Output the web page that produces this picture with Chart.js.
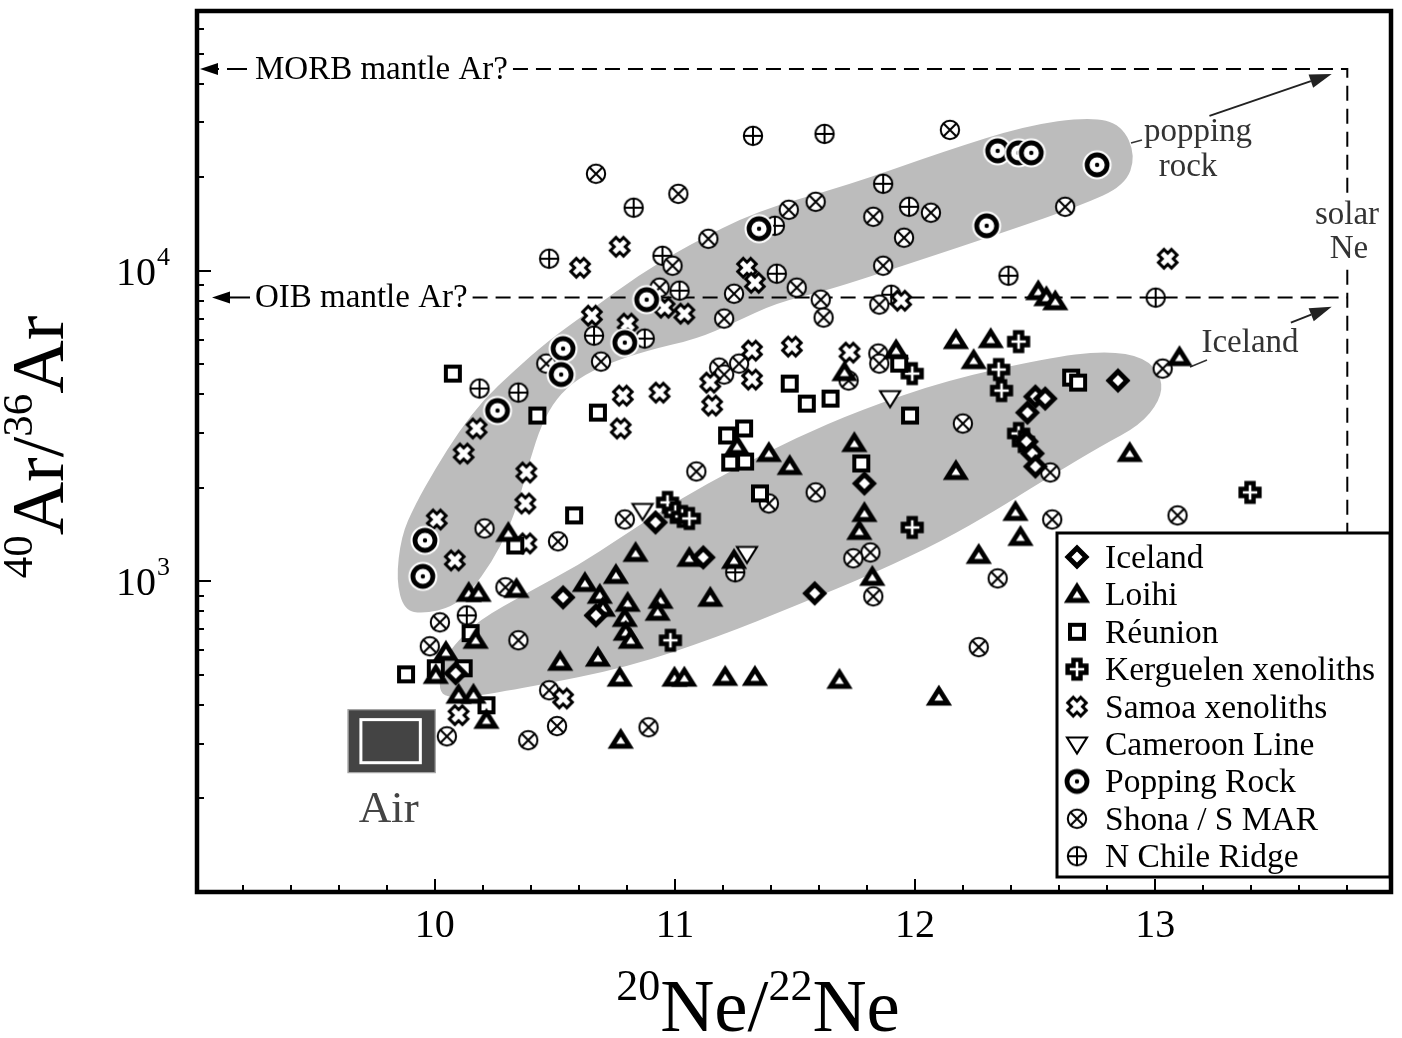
<!DOCTYPE html>
<html><head><meta charset="utf-8">
<script src="https://cdn.jsdelivr.net/npm/chart.js@4/dist/chart.umd.min.js"></script>
<style>html,body{margin:0;padding:0;background:#fff;overflow:hidden}#wrap{width:1402px;height:1038px;position:relative}canvas{display:block}</style>
</head><body><div id="wrap"><canvas id="c"></canvas></div>
<script>
// ---------- data ([20Ne/22Ne, 40Ar/36Ar]) ----------
const xMajorTicks = [10, 11, 12, 13];
const xTickLabels = ['10', '11', '12', '13'];
const yMajorTicks = [1000, 10000];
const yTickExponents = ['3', '4'];

const iceland = [[10.087,506],[10.534,888],[10.671,777],[10.919,1548],[11.118,1194],[11.582,915],[11.789,2066],[12.468,3494],[12.501,3934],[12.542,3876],[12.464,2819],[12.489,2580],[12.501,2343],[12.845,4430]];
const loihi = [[10.141,915],[10.182,915],[10.340,942],[10.046,591],[10.170,646],[10.004,498],[10.099,430],[10.161,430],[10.215,357],[10.522,549],[10.679,566],[10.625,985],[10.687,902],[10.754,1045],[10.836,1230],[11.060,1186],[10.803,850],[10.700,819],[10.940,869],[10.928,795],[10.791,760],[10.795,686],[10.816,646],[11.147,882],[11.246,1168],[10.770,488],[10.998,488],[11.039,488],[11.209,491],[11.333,491],[11.685,480],[10.774,308],[12.099,424],[10.306,1427],[11.259,2717],[11.391,2580],[11.478,2343],[11.706,4699],[11.921,5531],[11.747,2778],[11.789,1654],[11.768,1448],[11.822,1030],[12.170,5957],[12.315,6002],[12.244,5136],[12.170,2258],[12.265,1212],[12.418,1667],[12.439,1385],[12.513,8561],[12.547,8188],[12.584,7948],[12.894,2580],[13.101,5252]];
const reunion = [[9.880,502],[10.004,525],[10.149,681],[10.120,525],[10.215,399],[10.075,4665],[10.427,3418],[10.679,3494],[10.580,1630],[11.217,2948],[11.230,2413],[10.335,1305],[11.478,4332],[11.549,3735],[11.648,3876],[11.288,3105],[11.292,2431],[11.934,5023],[11.979,3418],[11.776,2396],[11.354,1919],[12.650,4529],[12.679,4364]];
const kerguelen = [[10.969,1795],[11.002,1667],[11.031,1618],[11.060,1594],[10.981,646],[12.431,5912],[12.348,4806],[12.360,4113],[12.431,2992],[12.451,2819],[11.988,4665],[11.988,1491],[13.395,1933]];
const samoa = [[10.654,7166],[10.803,6756],[11.039,7273],[10.783,3963],[10.936,4052],[11.147,4364],[11.155,3681],[10.774,3105],[10.174,3105],[10.120,2580],[10.381,2241],[10.377,1781],[10.008,1582],[10.083,1168],[10.381,1325],[10.957,7603],[10.770,11946],[10.605,10224],[11.300,10224],[11.333,9150],[11.321,5531],[11.487,5697],[11.727,5449],[11.321,4463],[10.099,371],[10.534,420],[11.942,8008],[13.052,10930]];
const cameroon = [[11.896,3905],[11.300,1230],[10.865,1692]];
const poppingRock = [[12.344,24310],[12.431,23950],[12.484,23950],[12.758,21920],[12.298,13950],[11.350,13650],[10.882,8068],[10.791,5870],[10.534,5614],[10.526,4631],[10.261,3547],[9.959,1355],[9.950,1038]];
const shona = [[10.671,20507],[11.014,17680],[11.139,12672],[10.990,10378],[10.936,8818],[11.246,8433],[11.205,7012],[12.145,28400],[11.586,16670],[11.474,15710],[11.826,14915],[12.066,15370],[11.954,12770],[11.867,10378],[11.507,8818],[11.607,8068],[11.851,7778],[12.625,16060],[11.619,7063],[10.692,5098],[10.464,5023],[11.184,4877],[11.205,4631],[11.089,2258],[10.791,1582],[10.513,1345],[10.207,1480],[10.294,957],[11.847,5411],[11.851,5023],[11.267,5023],[11.723,4430],[12.199,3221],[11.586,1933],[11.391,1781],[11.814,1239],[11.743,1186],[11.826,895],[12.344,1022],[12.265,614],[13.031,4841],[12.563,2241],[12.571,1582],[13.093,1630],[10.021,738],[9.979,618],[10.348,646],[10.476,446],[10.050,317],[10.389,308],[10.509,342],[10.890,339]];
const nChile = [[11.325,27170],[10.828,15950],[10.476,10930],[10.948,11170],[11.019,8625],[11.424,9780],[11.416,13950],[11.623,27570],[11.867,19050],[11.975,16060],[11.901,8371],[12.389,9637],[13.002,8188],[10.663,6180],[10.874,6045],[10.186,4175],[10.348,4052],[11.251,1069],[10.133,777]];

// reference values
const morbAr = 44600, oibAr = 8200, solarNe = 13.8, solarLineEnd = 1350;
const airNe = [9.64, 10.0], airAr = [243, 385];
// field outlines (data units)
const poppingField = [[9.839,1007],[9.860,1397],[9.917,1763],[10.004,2318],[10.099,3028],[10.203,3846],[10.327,4735],[10.472,5957],[10.654,7517],[10.845,9637],[11.052,12035],[11.342,15590],[11.714,18760],[12.128,24310],[12.460,29260],[12.728,31300],[12.861,29500],[12.919,23430],[12.874,18760],[12.687,16180],[12.389,13450],[11.975,10530],[11.631,8625],[11.424,7890],[11.246,6804],[11.093,6045],[10.886,5531],[10.721,5023],[10.596,4496],[10.505,3876],[10.443,3174],[10.398,2486],[10.356,1890],[10.306,1459],[10.236,1151],[10.153,936],[10.070,825],[9.954,788],[9.872,807]];
const icelandField = [[10.017,446],[10.025,537],[10.079,623],[10.182,749],[10.389,922],[10.596,1126],[10.774,1385],[11.010,1822],[11.259,2326],[11.507,2904],[11.768,3547],[12.128,4430],[12.542,5212],[12.791,5531],[12.960,5252],[13.030,4496],[13.020,3819],[12.935,3174],[12.778,2737],[12.501,2036],[12.335,1692],[12.116,1355],[11.839,1069],[11.507,837],[11.176,661],[10.803,529],[10.389,456],[10.141,424],[10.050,424]];
// arrows to solar corner (data units)
const poppingArrow = [[13.226,31500],[13.735,42990]];
const icelandArrow = [[13.565,6804],[13.735,7660]];

// ---------- markers ----------
const SERIF = '"Liberation Serif","Times New Roman",Times,serif';
function mk(size, fn){const c=document.createElement('canvas');c.width=size;c.height=size;const g=c.getContext('2d');g.translate(size/2,size/2);g.strokeStyle='#000';g.fillStyle='#fff';fn(g);return c;}
function plusPath(g,a,L){g.beginPath();const p=[[-a,-L],[a,-L],[a,-a],[L,-a],[L,a],[a,a],[a,L],[-a,L],[-a,a],[-L,a],[-L,-a],[-a,-a]];g.moveTo(p[0][0],p[0][1]);for(let i=1;i<p.length;i++)g.lineTo(p[i][0],p[i][1]);g.closePath();}
const MK = {
  diamond: mk(32,g=>{g.beginPath();g.moveTo(0,-9);g.lineTo(9,0);g.lineTo(0,9);g.lineTo(-9,0);g.closePath();g.fill();g.lineWidth=5;g.stroke();}),
  tri: mk(34,g=>{g.beginPath();g.moveTo(0,-8);g.lineTo(8.8,6);g.lineTo(-8.8,6);g.closePath();g.fill();g.lineWidth=4.8;g.stroke();}),
  square: mk(28,g=>{g.beginPath();g.rect(-7,-7,14,14);g.fill();g.lineWidth=4;g.stroke();}),
  kerg: mk(30,g=>{plusPath(g,3.5,9.4);g.fill();g.lineWidth=4.4;g.lineJoin='miter';g.stroke();}),
  samoa: mk(30,g=>{g.rotate(Math.PI/4);plusPath(g,3.9,9.2);g.fill();g.lineWidth=3;g.stroke();}),
  cam: mk(30,g=>{g.beginPath();g.moveTo(-10,-6.5);g.lineTo(10,-6.5);g.lineTo(0,9.5);g.closePath();g.fill();g.lineWidth=2.1;g.stroke();}),
  pop: mk(34,g=>{g.beginPath();g.arc(0,0,14.5,0,Math.PI*2);g.fill();g.beginPath();g.arc(0,0,10,0,Math.PI*2);g.lineWidth=4.8;g.stroke();g.beginPath();g.arc(0,0,2.2,0,Math.PI*2);g.fillStyle='#000';g.fill();}),
  shona: mk(28,g=>{g.beginPath();g.arc(0,0,9.2,0,Math.PI*2);g.fill();g.lineWidth=2;g.stroke();const r=6.5;g.beginPath();g.moveTo(-r,-r);g.lineTo(r,r);g.moveTo(r,-r);g.lineTo(-r,r);g.stroke();}),
  chile: mk(28,g=>{g.beginPath();g.arc(0,0,9.2,0,Math.PI*2);g.fill();g.lineWidth=2;g.stroke();g.beginPath();g.moveTo(-9.2,0);g.lineTo(9.2,0);g.moveTo(0,-9.2);g.lineTo(0,9.2);g.stroke();})
};

const seriesDefs = [
  ['Popping Rock', poppingRock, MK.pop],
  ['Iceland', iceland, MK.diamond],
  ['Loihi', loihi, MK.tri],
  ['Réunion', reunion, MK.square],
  ['Kerguelen xenoliths', kerguelen, MK.kerg],
  ['Samoa xenoliths', samoa, MK.samoa],
  ['Cameroon Line', cameroon, MK.cam],
  ['Shona / S MAR', shona, MK.shona],
  ['N Chile Ridge', nChile, MK.chile]
];
const legendOrder = ['Iceland','Loihi','Réunion','Kerguelen xenoliths','Samoa xenoliths','Cameroon Line','Popping Rock','Shona / S MAR','N Chile Ridge'];

// ---------- helpers ----------
function smoothClosed(ctx, pts){const n=pts.length;const mid=(a,b)=>[(a[0]+b[0])/2,(a[1]+b[1])/2];const m0=mid(pts[n-1],pts[0]);ctx.moveTo(m0[0],m0[1]);for(let i=0;i<n;i++){const p=pts[i],m=mid(p,pts[(i+1)%n]);ctx.quadraticCurveTo(p[0],p[1],m[0],m[1]);}ctx.closePath();}
function arrow(ctx,x1,y1,x2,y2,hl,hw){const a=Math.atan2(y2-y1,x2-x1);const bx=x2-hl*Math.cos(a),by=y2-hl*Math.sin(a);ctx.beginPath();ctx.moveTo(x1,y1);ctx.lineTo(bx,by);ctx.stroke();ctx.beginPath();ctx.moveTo(x2,y2);ctx.lineTo(bx+hw*Math.sin(a),by-hw*Math.cos(a));ctx.lineTo(bx-hw*Math.sin(a),by+hw*Math.cos(a));ctx.closePath();ctx.fill();}
function supText(ctx, parts, cx, by, S, s, raise){
  let w=0;parts.forEach(p=>{ctx.font=(p[1]?s:S)+'px '+SERIF;p.w=ctx.measureText(p[0]).width;w+=p.w;});
  let x=cx-w/2;ctx.textAlign='left';ctx.textBaseline='alphabetic';
  parts.forEach(p=>{ctx.font=(p[1]?s:S)+'px '+SERIF;ctx.fillText(p[0],x,by-(p[1]?raise:0));x+=p.w;});
}

const underlay = {
  id:'underlay',
  beforeDatasetsDraw(chart){
    const {ctx, chartArea:ca, scales:{x:xs,y:ys}} = chart;
    const P = p=>[xs.getPixelForValue(p[0]), ys.getPixelForValue(p[1])];
    ctx.save();
    ctx.fillStyle='#bcbcbc';
    [poppingField, icelandField].forEach(f=>{ctx.beginPath();smoothClosed(ctx,f.map(P));ctx.fill();});
    // air box
    const ax0=xs.getPixelForValue(airNe[0]), ax1=xs.getPixelForValue(airNe[1]);
    const ay0=ys.getPixelForValue(airAr[1]), ay1=ys.getPixelForValue(airAr[0]);
    ctx.fillStyle='#444';ctx.fillRect(ax0,ay0,ax1-ax0,ay1-ay0);
    ctx.strokeStyle='#999';ctx.lineWidth=1;ctx.strokeRect(ax0-0.5,ay0-0.5,ax1-ax0+1,ay1-ay0+1);
    ctx.strokeStyle='#fff';ctx.lineWidth=3;ctx.strokeRect(ax0+12.5,ay0+9.5,ax1-ax0-27,ay1-ay0-19);
    ctx.fillStyle='#444';ctx.font='45px '+SERIF;ctx.textAlign='center';ctx.textBaseline='alphabetic';
    ctx.fillText('Air',(ax0+ax1)/2-3,ay1+50);
    // reference lines
    const yM=ys.getPixelForValue(morbAr), yO=ys.getPixelForValue(oibAr), xS=xs.getPixelForValue(solarNe);
    ctx.fillStyle='#000';ctx.font='33px '+SERIF;ctx.textAlign='left';ctx.textBaseline='middle';
    const tM='MORB mantle Ar?', tO='OIB mantle Ar?';
    ctx.fillText(tM,ca.left+58,yM+1);ctx.fillText(tO,ca.left+58,yO+1);
    const eM=ca.left+58+ctx.measureText(tM).width+5, eO=ca.left+58+ctx.measureText(tO).width+5;
    ctx.strokeStyle='#000';ctx.lineWidth=2;ctx.setLineDash([15,8]);
    ctx.beginPath();ctx.moveTo(eM,yM);ctx.lineTo(xS,yM);ctx.lineTo(xS,ys.getPixelForValue(solarLineEnd));ctx.stroke();
    ctx.beginPath();ctx.moveTo(eO,yO);ctx.lineTo(xS,yO);ctx.stroke();
    ctx.setLineDash([]);
    // left arrows
    arrow(ctx,ca.left+22,yM,ca.left+3,yM,18,6);
    ctx.beginPath();ctx.moveTo(ca.left+30,yM);ctx.lineTo(ca.left+50,yM);ctx.stroke();
    arrow(ctx,ca.left+53,yO,ca.left+15,yO,18,6);
    // arrows to solar corner
    const pa=poppingArrow.map(P), ia=icelandArrow.map(P);
    ctx.strokeStyle='#222';ctx.fillStyle='#222';
    arrow(ctx,pa[0][0],pa[0][1],pa[1][0],pa[1][1],22,7);
    arrow(ctx,ia[0][0],ia[0][1],ia[1][0],ia[1][1],22,7);
    // gap in solar line behind its label
    ctx.fillStyle='#fff';ctx.fillRect(xS-8,196,16,70);
    // labels
    ctx.fillStyle='#333';ctx.font='33px '+SERIF;ctx.textAlign='center';ctx.textBaseline='alphabetic';
    ctx.fillText('popping',1198,141);ctx.fillText('rock',1188,176);
    ctx.fillText('solar',1347,224);ctx.fillText('Ne',1349,258);
    ctx.fillText('Iceland',1250,352);
    ctx.lineWidth=1.5;ctx.strokeStyle='#333';
    ctx.beginPath();ctx.moveTo(1131,143);ctx.lineTo(1142,140);ctx.stroke();
    ctx.beginPath();ctx.moveTo(1190,367);ctx.lineTo(1207,360);ctx.stroke();
    ctx.restore();
  }
};

const overlay = {
  id:'overlay',
  afterDraw(chart){
    const {ctx, chartArea:ca, scales:{x:xs,y:ys}} = chart;
    ctx.save();
    ctx.strokeStyle='#000';ctx.fillStyle='#000';
    // ticks (inward)
    ctx.lineWidth=2;ctx.beginPath();
    for(let v=9.2; v<13.9; v+=0.2){const px=Math.round(xs.getPixelForValue(v));const major=xMajorTicks.some(t=>Math.abs(t-v)<1e-6);ctx.moveTo(px,ca.bottom);ctx.lineTo(px,ca.bottom-(major?13:7));}
    for(let dec=100; dec<=10000; dec*=10){for(let k=1;k<=9;k++){const v=k*dec;if(v<=100||v>=ys.max)continue;const py=Math.round(ys.getPixelForValue(v));const major=yMajorTicks.includes(v);ctx.moveTo(ca.left,py);ctx.lineTo(ca.left+(major?14:7),py);}}
    ctx.stroke();
    // frame
    ctx.lineWidth=4.5;ctx.strokeRect(ca.left,ca.top,ca.right-ca.left,ca.bottom-ca.top);
    // x tick labels
    ctx.font='40px '+SERIF;ctx.textAlign='center';ctx.textBaseline='alphabetic';
    xMajorTicks.forEach((v,i)=>ctx.fillText(xTickLabels[i],xs.getPixelForValue(v),ca.bottom+45));
    // y tick labels 10^n
    yMajorTicks.forEach((v,i)=>{const py=ys.getPixelForValue(v);ctx.font='40px '+SERIF;ctx.textAlign='right';
      ctx.fillText('10',156,py+14);ctx.font='26px '+SERIF;ctx.textAlign='left';ctx.fillText(yTickExponents[i],157,py-6);});
    // axis titles
    supText(ctx,[['20',1],['Ne',0],['/',0],['22',1],['Ne',0]],758,1031,75,44,31);
    ctx.save();ctx.translate(63,447);ctx.rotate(-Math.PI/2);
    supText(ctx,[['40',1],['Ar',0],['/',0],['36',1],['Ar',0]],0,0,74,43,31);ctx.restore();
    // legend
    const L={x:1057,y:533,w:333,h:344};
    ctx.fillStyle='#fff';ctx.fillRect(L.x,L.y,L.w,L.h);ctx.lineWidth=3;ctx.strokeStyle='#000';ctx.strokeRect(L.x,L.y,L.w,L.h);
    ctx.fillStyle='#000';ctx.font='33.5px '+SERIF;ctx.textAlign='left';ctx.textBaseline='alphabetic';
    legendOrder.forEach((name,i)=>{const ds=chart.data.datasets.find(d=>d.label===name);const cy=L.y+24+i*37.4;const im=ds.pointStyle;
      ctx.drawImage(im,L.x+20-im.width/2,cy-im.height/2);ctx.fillText(name,L.x+48,cy+11);});
    ctx.restore();
  }
};

new Chart(document.getElementById('c'),{
  type:'scatter',
  data:{datasets:seriesDefs.map(([name,pts,m])=>({label:name,data:pts.map(p=>({x:p[0],y:p[1]})),pointStyle:m,pointRadius:10,pointHoverRadius:10,showLine:false}))},
  options:{
    responsive:true,maintainAspectRatio:false,animation:false,events:[],devicePixelRatio:1,
    layout:{padding:{left:197,right:5,top:10,bottom:146}},
    scales:{x:{type:'linear',min:9.0095,max:13.982,display:false},y:{type:'logarithmic',min:100,max:68550,display:false}},
    plugins:{legend:{display:false},tooltip:{enabled:false}}
  },
  plugins:[underlay,overlay]
});
</script></body></html>
